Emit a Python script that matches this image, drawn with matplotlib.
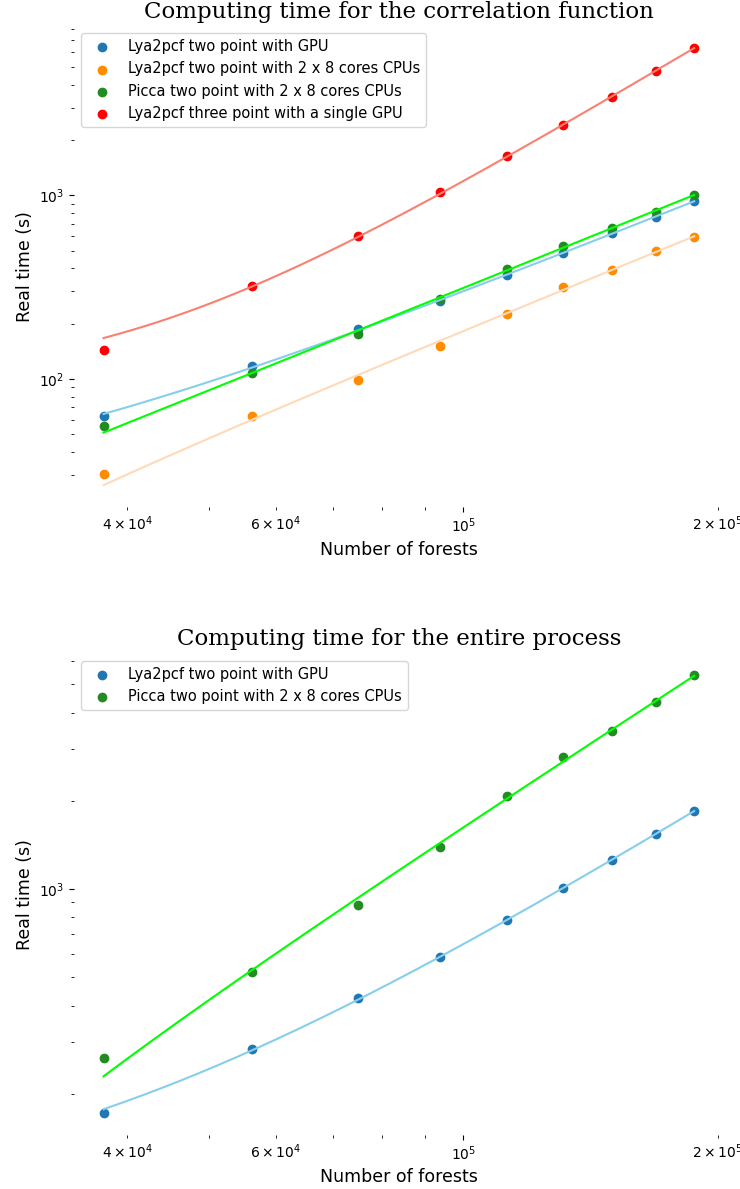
import numpy as np
import matplotlib
matplotlib.use("Agg")
import matplotlib.pyplot as plt

# Number of forests
n_forests = [37500, 56250, 75000, 93750, 112500, 131250, 150000, 168750, 187500]

# correlation function times (s)
t_gpu_2pt = [62.8, 117, 187, 266, 368, 487, 620, 764, 928]
t_cpu_2pt = [30.4, 63.2, 99, 152, 227, 317, 390, 497, 592]
t_picca = [55.4, 108, 176, 272, 395, 529, 665, 813, 1009]
t_gpu_3pt = [144, 321, 599, 1038, 1642, 2420, 3433, 4750, 6340]

# entire process times (s)
t_full_gpu = [172.5, 284, 424, 587, 784, 1010, 1256, 1538, 1850]
t_full_picca = [265.6, 520, 882, 1394, 2075, 2812, 3459, 4354, 5357]

labels_top = [
    "Lya2pcf two point with GPU",
    "Lya2pcf two point with 2 x 8 cores CPUs",
    "Picca two point with 2 x 8 cores CPUs",
    "Lya2pcf three point with a single GPU",
]


def fit_curve(x, y):
    # y = a * x**b + c, least squares in linear space (grid over b)
    x = np.asarray(x, float) / 1e5
    y = np.asarray(y, float)
    best = None
    for b in np.linspace(0.5, 3.5, 3001):
        A = np.column_stack([x ** b, np.ones_like(x)])
        coef, *_ = np.linalg.lstsq(A, y, rcond=None)
        err = np.sum((A @ coef - y) ** 2)
        if best is None or err < best[0]:
            best = (err, b, coef)
    _, b, (a, c) = best
    xs = np.linspace(x.min(), x.max(), 200)
    return xs * 1e5, a * xs ** b + c


def clean(ax):
    for s in ax.spines.values():
        s.set_visible(False)
    ax.set_xscale("log")
    ax.set_yscale("log")
    ax.tick_params(labelsize=10)


fig = plt.figure(figsize=(7.4, 11.89), dpi=100)
ax1 = fig.add_axes([0.1, 0.5736, 0.878, 0.4045])
ax2 = fig.add_axes([0.1, 0.0458, 0.878, 0.4045])

# --- correlation function ---
series = [
    (t_gpu_2pt, "tab:blue", "skyblue"),
    (t_cpu_2pt, "darkorange", "peachpuff"),
    (t_picca, "forestgreen", "lime"),
    (t_gpu_3pt, "red", "salmon"),
]
for (y, pc, lc), lab in zip(series, labels_top):
    ax1.scatter(n_forests, y, color=pc, label=lab)
for y, pc, lc in series:
    xs, ys = fit_curve(n_forests, y)
    ax1.plot(xs, ys, color=lc, lw=1.5)
clean(ax1)
ax1.set_title("Computing time for the correlation function", family="DejaVu Serif", fontsize=16.5)
ax1.set_xlabel("Number of forests", fontsize=12.5)
ax1.set_ylabel("Real time (s)", fontsize=12.5)
ax1.legend(loc="upper left", fontsize=10.5)

# --- entire process ---
ax2.scatter(n_forests, t_full_gpu, color="tab:blue", label=labels_top[0])
ax2.scatter(n_forests, t_full_picca, color="forestgreen", label=labels_top[2])
xs, ys = fit_curve(n_forests, t_full_gpu)
ax2.plot(xs, ys, color="skyblue", lw=1.5)
xs, ys = fit_curve(n_forests, t_full_picca)
ax2.plot(xs, ys, color="lime", lw=1.5)
clean(ax2)
ax2.set_title("Computing time for the entire process", family="DejaVu Serif", fontsize=16.5)
ax2.set_xlabel("Number of forests", fontsize=12.5)
ax2.set_ylabel("Real time (s)", fontsize=12.5)
ax2.legend(loc="upper left", fontsize=10.5)

fig.savefig("out.png", dpi=100)
